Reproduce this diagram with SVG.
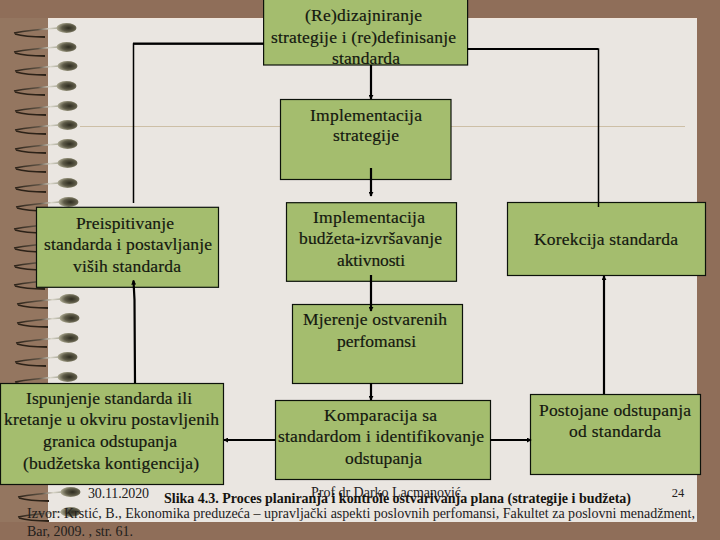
<svg xmlns="http://www.w3.org/2000/svg" xmlns:xlink="http://www.w3.org/1999/xlink" width="720" height="540" viewBox="0 0 720 540">
<style>
.box{fill:#a4bd6e;stroke:#0c120a;stroke-width:1.2}
text{font-family:"Liberation Serif","Times New Roman",serif;fill:#141810;text-anchor:middle;font-size:17.5px;stroke:#141810;stroke-width:.2}
.foot{font-size:14px;fill:#22201c;stroke:none}
.num{font-size:12.500px;fill:#22201c;stroke:none}
.cap{font-size:14px;font-weight:bold;fill:#15130f;stroke:none}
.con{fill:none;stroke:#000;stroke-width:2.2}
.fb{fill:none;stroke:#000;stroke-width:1.5}
</style>
<defs>
<radialGradient id="bd" cx="0.6" cy="0.5" r="0.6"><stop offset="0" stop-color="#2e2c20"/><stop offset="0.55" stop-color="#5d5a47"/><stop offset="1" stop-color="#b0ad95"/></radialGradient>
<linearGradient id="wt" x1="0" x2="1" y1="0" y2="0"><stop offset="0" stop-color="#2c2218"/><stop offset="0.55" stop-color="#5f5345"/><stop offset="0.8" stop-color="#d8d5c8"/><stop offset="1" stop-color="#a8a898"/></linearGradient>
<g id="ring">
<path d="M58 0C44 1 30 2 14 5" fill="none" stroke="url(#wt)" stroke-width="1.6"/>
<path d="M15 6C25 9 35 9 45 9" fill="none" stroke="#2c2218" stroke-width="1.8"/>
<ellipse cx="66.500" cy="0" rx="10" ry="5" fill="url(#bd)"/>
</g>
<marker id="ah" viewBox="0 0 6 6" refX="5" refY="3" markerWidth="5" markerHeight="5" markerUnits="userSpaceOnUse" orient="auto"><path d="M0 0L6 3L0 6Z" fill="#000"/></marker>
</defs>
<rect width="720" height="540" fill="#8f6e59"/>
<rect x="0" y="18" width="48" height="504" fill="#947660"/>
<rect x="48" y="18" width="649" height="504" fill="#eae6e1"/>
<rect x="48" y="18" width="649" height="1" fill="#f1e6dc"/>
<g id="spiral">
<use href="#ring" x="0" y="28"/><use href="#ring" x="0" y="47"/><use href="#ring" x="1" y="66"/><use href="#ring" x="0" y="86"/>
<use href="#ring" x="1" y="106"/><use href="#ring" x="1" y="125"/><use href="#ring" x="1" y="144"/><use href="#ring" x="1" y="163"/>
<use href="#ring" x="1" y="183"/><use href="#ring" x="2" y="202"/><use href="#ring" x="0" y="224"/><use href="#ring" x="0" y="243"/>
<use href="#ring" x="0" y="261"/><use href="#ring" x="0" y="280"/><use href="#ring" x="3" y="299"/><use href="#ring" x="3" y="318"/>
<use href="#ring" x="2" y="338"/><use href="#ring" x="1" y="357"/><use href="#ring" x="1" y="377"/><use href="#ring" x="4" y="492"/><use href="#ring" x="4" y="512"/>
</g>
<path d="M80 126.500H685" stroke="#cdbfa6" stroke-width="1"/>
<g id="nodes">
<g id="n-redesign"><rect class="box" x="263.600" y="-2" width="204" height="67"/>
<text x="363.500" y="21" textLength="117" lengthAdjust="spacing">(Re)dizajniranje</text><text x="363.500" y="43" textLength="185">strategije i (re)definisanje</text><text x="366" y="64" textLength="68">standarda</text></g>
<g id="n-strategy"><rect class="box" x="280.500" y="99.500" width="170.500" height="80"/>
<text x="366" y="120.700" textLength="112">Implementacija</text><text x="366" y="141" textLength="66">strategije</text></g>
<g id="n-budget"><rect class="box" x="286.500" y="202.700" width="170" height="78.600"/>
<text x="369" y="222.700" textLength="112">Implementacija</text><text x="370.500" y="244" textLength="143">budžeta-izvršavanje</text><text x="371" y="266" textLength="68">aktivnosti</text></g>
<g id="n-review"><rect class="box" x="36.500" y="207.300" width="182" height="80"/>
<text x="125" y="228.700" textLength="98">Preispitivanje</text><text x="128" y="250" textLength="168">standarda i postavljanje</text><text x="127" y="271.700" textLength="108">viših standarda</text></g>
<g id="n-correction"><rect class="box" x="507.500" y="202.500" width="198" height="73"/>
<text x="606" y="245" textLength="144">Korekcija standarda</text></g>
<g id="n-measure"><rect class="box" x="292.500" y="304.500" width="170" height="79"/>
<text x="375" y="325" textLength="144">Mjerenje ostvarenih</text><text x="376.500" y="346.700" textLength="79">perfomansi</text></g>
<g id="n-compare"><rect class="box" x="275.500" y="400.500" width="215" height="79"/>
<text x="380.500" y="421" textLength="113">Komparacija sa</text><text x="381" y="442.300" textLength="206">standardom i identifikovanje</text><text x="383.500" y="464" textLength="77">odstupanja</text></g>
<g id="n-deviation"><rect class="box" x="530.500" y="394.500" width="170" height="80"/>
<text x="615" y="416" textLength="152">Postojane odstupanja</text><text x="615" y="436.700" textLength="92">od standarda</text></g>
<g id="n-fulfil"><rect class="box" x="0.500" y="383.500" width="223" height="101"/>
<text x="109" y="404" textLength="166">Ispunjenje standarda ili</text><text x="111.500" y="425" textLength="215">kretanje u okviru postavljenih</text><text x="110" y="447" textLength="134">granica odstupanja</text><text x="111" y="469" textLength="176">(budžetska kontigencija)</text></g>
</g>
<g id="connectors">
<path class="fb" d="M133.500 203V44H264"/><path class="fb" d="M467 49H598.500V207"/>
<path d="M133 43.500H264M467 49H598" stroke="#000" stroke-width="2" fill="none"/>
<path class="con" d="M371 65V99" marker-end="url(#ah)"/>
<path class="con" d="M371 168V196" marker-end="url(#ah)"/>
<path class="con" d="M371 275V311" marker-end="url(#ah)"/>
<path class="con" d="M371 383V400" marker-end="url(#ah)"/>
<path class="con" d="M275 440H224" marker-end="url(#ah)"/>
<path class="con" d="M490 440H531" marker-end="url(#ah)"/>
<path class="con" d="M604 394V276" marker-end="url(#ah)"/>
<path class="con" d="M135 383L134.500 300L133.500 280.500" marker-end="url(#ah)"/>
</g>
<g id="footer">
<text class="foot" x="118.500" y="497.700" textLength="61">30.11.2020</text>
<text class="foot" x="386" y="497" textLength="150">Prof dr Darko Lacmanović</text>
<text class="num" x="678" y="497">24</text>
<text class="cap" x="397.500" y="502.700" textLength="467">Slika 4.3. Proces planiranja i kontrole ostvarivanja plana (strategije i budžeta)</text>
<text class="foot" x="361" y="518" textLength="668">Izvor: Krstić, B., Ekonomika preduzeća – upravljački aspekti poslovnih perfomansi, Fakultet za poslovni menadžment,</text>
<text class="foot" x="80" y="536" textLength="106">Bar, 2009. , str. 61.</text>
</g>
</svg>
